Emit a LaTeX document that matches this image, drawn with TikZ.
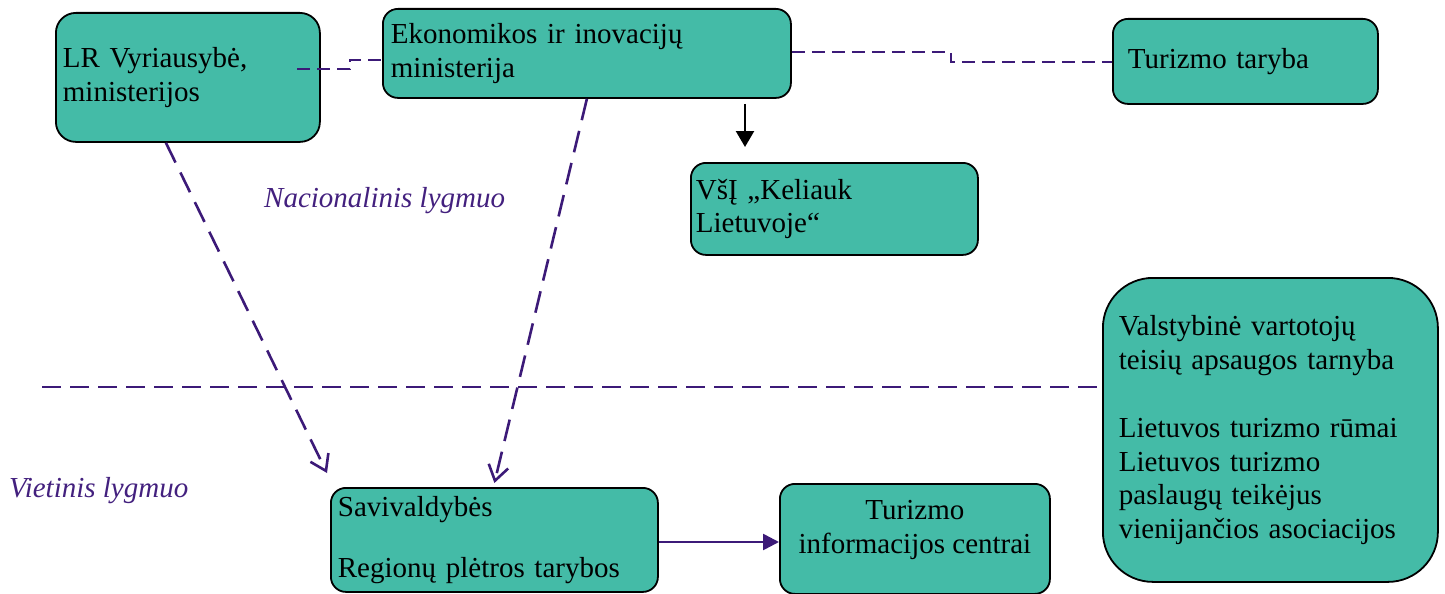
\documentclass[tikz,border=0pt]{standalone}
\usepackage{fontspec}
\setmainfont{Liberation Serif}
\usetikzlibrary{arrows.meta}
\definecolor{tealfill}{HTML}{44BBA7}
\definecolor{pline}{HTML}{3C1A78}
\definecolor{ptext}{HTML}{43207E}
\tikzset{
  boxnode/.style={draw=black, line width=1.8pt, fill=tealfill, align=left, inner ysep=0pt,
    anchor=north west, font=\fontsize{29}{33.5}\selectfont},
  topdash/.style={draw=pline, line width=2.6pt, dash pattern=on 13pt off 7pt},
  longdash/.style={draw=pline, line width=2.6pt, dash pattern=on 19pt off 9pt},
  diagdash/.style={draw=pline, line width=2.6pt, dash pattern=on 22pt off 11pt, -{Straight Barb[length=15pt,width=20pt,line width=2.6pt]}},
  levellabel/.style={text=ptext, font=\fontsize{29}{33.5}\selectfont\itshape, anchor=west, inner sep=0pt},
}
\begin{document}
\begin{tikzpicture}[x=1pt,y=-1pt]
\useasboundingbox (0,0) rectangle (1445,594);
% boxes
\node[boxnode, rounded corners=20pt, minimum width=264pt, minimum height=129pt, inner xsep=7pt, text width=250pt] (lr) at (55,12) {LR Vyriausybė,\\ministerijos};
\node[boxnode, rounded corners=15pt, minimum width=408pt, minimum height=89pt, inner xsep=8pt, text width=392pt] (ek) at (382,8) {Ekonomikos ir inovacijų\\ministerija};
\node[boxnode, rounded corners=15pt, minimum width=265pt, minimum height=85pt, inner xsep=15pt, text width=235pt] (tt) at (1112,18) {Turizmo taryba};
\node[boxnode, rounded corners=15pt, minimum width=287pt, minimum height=92pt, inner xsep=5pt, text width=277pt] (vsi) at (690,162) {VšĮ „Keliauk\\Lietuvoje“};
\node[boxnode, rounded corners=50pt, minimum width=335pt, minimum height=304pt, inner xsep=16pt, text width=303pt] (vv) at (1102,277) {Valstybinė vartotojų\\teisių apsaugos tarnyba\\[35pt]Lietuvos turizmo rūmai\\Lietuvos turizmo\\paslaugų teikėjus\\vienijančios asociacijos};
\node[boxnode, rounded corners=15pt, minimum width=327pt, minimum height=104pt, inner xsep=7pt, text width=313pt] (sav) at (330,487) {Savivaldybės\\[27.5pt]Regionų plėtros tarybos};
\node[boxnode, rounded corners=15pt, minimum width=270pt, minimum height=110pt, inner xsep=6pt, text width=258pt] (tic) at (779,483) {};
\node[font=\fontsize{29}{33.5}\selectfont, align=center, inner sep=0pt] (tictext) at ([yshift=9pt]tic.center) {Turizmo\\informacijos centrai};
% level labels
\node[levellabel] (nat) at (264,201) {Nacionalinis lygmuo};
\node[levellabel] (loc) at (9,491) {Vietinis lygmuo};
% connectors
\coordinate (c1) at (297,69);
\draw[topdash] (c1) -- (350,69) -- (350,60) -- (ek.west |- 0,60);
\draw[topdash] (ek.east |- 0,52) -- (951,52) -- (951,62) -- (tt.west |- 0,62);
\coordinate (hl) at (42,387);
\draw[longdash] (hl) -- (vv.west |- hl);
\coordinate (a1end) at (327,473);
\draw[diagdash] ([xshift=-22pt]lr.south) -- (a1end);
\draw[diagdash] (ek.south) -- ([yshift=4pt]sav.north);
\draw[black, line width=2.4pt, shorten <=5pt, shorten >=15pt, -{Triangle[length=16pt,width=18pt]}] (ek.south -| 745,0) -- (vsi.north -| 745,0);
\draw[pline, line width=2.6pt, -{Triangle[length=16pt,width=16pt]}] (sav.east |- 0,542) -- (tic.west |- 0,542);
\end{tikzpicture}
\end{document}
